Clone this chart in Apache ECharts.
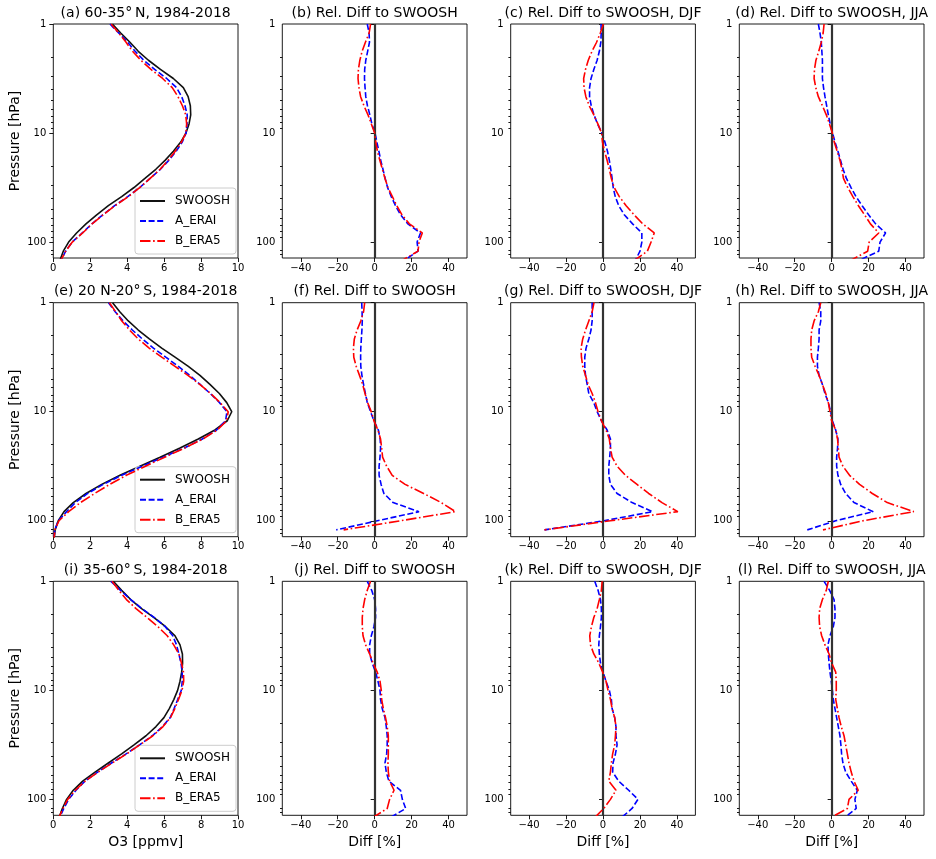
<!DOCTYPE html>
<html><head><meta charset="utf-8">
<script src="https://cdn.jsdelivr.net/npm/echarts@6/dist/echarts.min.js"></script>
<style>html,body{margin:0;padding:0;background:#fff}#c{width:936px;height:859px}</style>
</head><body><div id="c"></div>
<script>
// SWOOSH pressure levels [hPa]
const pressure = [1.00, 1.21, 1.47, 1.78, 2.15, 2.61, 3.16, 3.83, 4.64, 5.62, 6.81, 8.25, 10.0, 12.1, 14.7, 17.8, 21.5, 26.1, 31.6, 38.3, 46.4, 56.2, 68.1, 82.5, 100, 121.2, 146.8];

// O3 profiles [ppmv]
const swoosh_nh = [3.2, 3.65, 4.15, 4.6, 5.15, 5.8, 6.5, 7.04, 7.3, 7.42, 7.44, 7.35, 7.18, 6.9, 6.5, 6.05, 5.55, 4.96, 4.37, 3.7, 2.98, 2.35, 1.77, 1.26, 0.83, 0.54, 0.36];
const erai_nh   = [3.07, 3.54, 4.03, 4.43, 4.9, 5.49, 6.14, 6.67, 6.95, 7.13, 7.25, 7.24, 7.19, 6.98, 6.65, 6.25, 5.8, 5.24, 4.68, 4.03, 3.32, 2.68, 2.09, 1.57, 1.02, 0.67, 0.42];
const era5_nh   = [3.13, 3.54, 3.94, 4.29, 4.74, 5.29, 5.92, 6.44, 6.75, 6.99, 7.17, 7.22, 7.18, 6.94, 6.6, 6.22, 5.78, 5.24, 4.68, 4.06, 3.34, 2.7, 2.1, 1.59, 1.03, 0.67, 0.41];

const swoosh_tr = [3.21, 3.6, 4.06, 4.6, 5.2, 5.87, 6.59, 7.31, 7.94, 8.48, 8.99, 9.39, 9.66, 9.42, 8.75, 7.85, 6.86, 5.78, 4.69, 3.61, 2.62, 1.77, 1.08, 0.58, 0.27, 0.1, 0.04];
const erai_tr   = [2.99, 3.35, 3.78, 4.28, 4.82, 5.42, 6.09, 6.77, 7.38, 7.95, 8.5, 9.0, 9.4, 9.33, 8.84, 8.07, 7.09, 5.95, 4.81, 3.7, 2.7, 1.86, 1.19, 0.72, 0.27, 0.08, 0.04];
const era5_tr   = [3.04, 3.37, 3.71, 4.12, 4.6, 5.19, 5.87, 6.59, 7.29, 7.93, 8.52, 9.03, 9.47, 9.38, 8.88, 8.09, 7.12, 6.03, 4.99, 3.95, 3.05, 2.24, 1.47, 0.83, 0.31, 0.08, 0.04];

const swoosh_sh = [3.25, 3.7, 4.19, 4.78, 5.45, 6.08, 6.59, 6.86, 6.99, 7.0, 6.95, 6.86, 6.73, 6.53, 6.28, 5.99, 5.56, 5.02, 4.37, 3.7, 2.98, 2.26, 1.59, 1.08, 0.72, 0.49, 0.31];
const erai_sh   = [3.12, 3.64, 4.19, 4.8, 5.48, 6.06, 6.47, 6.67, 6.8, 6.91, 6.98, 6.98, 6.93, 6.74, 6.54, 6.33, 5.91, 5.36, 4.67, 3.94, 3.15, 2.4, 1.71, 1.23, 0.83, 0.57, 0.34];
const era5_sh   = [3.18, 3.55, 3.96, 4.48, 5.08, 5.67, 6.17, 6.52, 6.8, 6.94, 7.05, 7.06, 6.97, 6.78, 6.58, 6.34, 5.94, 5.39, 4.69, 3.97, 3.19, 2.43, 1.72, 1.19, 0.78, 0.52, 0.31];

// Relative differences to SWOOSH [%]
const diff_erai_nh_ann = [-4.0, -3.0, -2.8, -3.8, -4.8, -5.4, -5.5, -5.2, -4.8, -3.9, -2.6, -1.5, 0.2, 1.2, 2.3, 3.3, 4.5, 5.7, 7.0, 9.0, 11.3, 14.0, 18.0, 24.8, 23.0, 23.5, 16.0];
const diff_era5_nh_ann = [-2.2, -3.0, -5.0, -6.8, -8.0, -8.8, -9.0, -8.5, -7.6, -5.8, -3.6, -1.8, 0.0, 0.6, 1.5, 2.8, 4.2, 5.6, 7.2, 9.6, 12.0, 14.8, 18.8, 25.8, 24.0, 23.5, 15.0];
const diff_erai_nh_djf = [-1.1, -1.0, -1.2, -2.0, -3.2, -5.0, -6.5, -7.3, -7.3, -6.4, -4.9, -3.0, -0.6, 1.0, 2.4, 3.4, 4.2, 4.9, 5.5, 6.6, 8.5, 11.5, 16.0, 21.0, 21.0, 20.0, 17.5];
const diff_era5_nh_djf = [0.2, -1.5, -3.5, -6.0, -8.0, -9.5, -10.5, -10.3, -9.3, -7.5, -5.0, -2.8, -0.8, -0.3, 0.8, 2.2, 3.4, 4.5, 6.0, 8.8, 12.5, 16.8, 21.5, 27.7, 26.0, 24.0, 17.0];
const diff_erai_nh_jja = [-7.2, -6.3, -5.6, -5.3, -5.0, -5.0, -5.0, -4.4, -3.6, -2.7, -1.8, -0.8, 0.5, 1.8, 3.4, 4.8, 6.2, 8.0, 10.5, 13.2, 16.5, 20.0, 23.8, 29.2, 26.2, 25.5, 15.0];
const diff_era5_nh_jja = [-4.1, -4.6, -5.6, -7.0, -8.5, -9.3, -9.5, -8.6, -7.2, -5.0, -2.9, -1.2, 0.4, 1.4, 3.0, 4.5, 5.6, 6.4, 8.7, 11.5, 14.5, 17.8, 21.0, 25.5, 20.3, 19.5, 10.4];

const diff_erai_tr_ann = [-7.0, -6.8, -6.7, -6.9, -7.2, -7.5, -7.6, -7.5, -6.9, -6.0, -5.0, -4.0, -2.2, -0.4, 2.0, 3.0, 3.2, 2.9, 2.4, 2.4, 3.5, 5.0, 10.0, 24.0, 1.5, -20.8, null];
const diff_era5_tr_ann = [-5.4, -6.0, -7.5, -9.5, -11.0, -11.5, -11.3, -10.0, -8.2, -6.5, -5.2, -3.8, -1.8, -0.4, 1.8, 3.2, 3.8, 4.3, 6.5, 9.5, 16.5, 26.5, 36.0, 43.8, 14.0, -16.8, null];
const diff_erai_tr_djf = [-5.9, -5.9, -5.9, -6.5, -7.7, -9.2, -9.9, -9.9, -9.5, -8.6, -7.7, -5.0, -3.2, -0.9, 2.2, 4.0, 4.0, 3.6, 3.1, 3.1, 4.0, 7.6, 15.7, 26.8, 0.5, -31.7, null];
const diff_era5_tr_djf = [-4.9, -5.9, -7.7, -9.5, -11.0, -11.9, -11.7, -11.0, -9.5, -8.1, -5.9, -4.1, -2.7, -0.9, 1.6, 3.4, 4.0, 4.9, 7.6, 12.1, 18.4, 24.7, 31.9, 40.5, 4.0, -31.7, null];
const diff_erai_tr_jja = [-6.8, -5.9, -5.9, -6.8, -6.8, -7.2, -7.7, -7.7, -6.8, -5.0, -3.6, -1.8, -0.5, 0.4, 2.2, 3.4, 3.2, 2.7, 2.7, 3.4, 4.9, 7.6, 12.1, 22.5, 2.2, -13.2, null];
const diff_era5_tr_jja = [-5.9, -7.2, -9.5, -10.8, -11.2, -11.2, -10.8, -9.0, -6.8, -5.0, -3.2, -1.8, -0.9, 0.0, 2.2, 3.2, 3.6, 4.0, 6.1, 9.7, 15.1, 22.0, 30.1, 44.5, 17.0, -4.7, null];

const diff_erai_sh_ann = [-4.0, -1.6, 0.0, 0.5, 0.5, -0.4, -1.8, -2.7, -2.7, -1.3, 0.5, 1.8, 2.9, 3.2, 4.1, 5.6, 6.3, 6.8, 6.8, 6.5, 5.6, 6.3, 7.7, 14.0, 15.0, 16.8, 8.5];
const diff_era5_sh_ann = [-2.2, -4.0, -5.4, -6.3, -6.7, -6.7, -6.3, -4.9, -2.7, -0.9, 1.4, 2.9, 3.6, 3.8, 4.7, 5.9, 6.8, 7.4, 7.4, 7.4, 7.2, 7.4, 8.1, 10.5, 8.1, 6.8, -1.0];
const diff_erai_sh_djf = [-4.5, -2.7, -1.4, -0.9, -0.9, -1.4, -2.0, -2.3, -2.0, -1.4, 0.0, 1.6, 3.4, 4.5, 4.9, 6.3, 7.0, 7.0, 7.6, 6.7, 5.4, 5.2, 8.5, 13.9, 18.9, 15.7, 10.0];
const diff_era5_sh_djf = [-0.5, -0.9, -2.0, -3.2, -5.0, -6.3, -7.2, -6.8, -5.0, -2.3, -0.2, 1.6, 2.7, 4.0, 4.9, 6.3, 7.0, 6.7, 6.3, 5.2, 4.5, 4.0, 3.1, 7.0, 4.0, 0.4, -4.5];
const diff_erai_sh_jja = [-4.1, -1.1, 1.3, 1.8, 1.8, 0.9, -0.9, -2.0, -1.8, -1.4, -0.9, -0.2, 0.4, 0.9, 1.8, 2.7, 3.6, 4.5, 5.0, 5.4, 6.1, 7.6, 10.6, 13.9, 12.6, 13.3, 7.0];
const diff_era5_sh_jja = [-1.8, -2.9, -5.0, -6.5, -6.8, -6.5, -5.4, -3.6, -1.4, 0.0, 2.2, 2.5, 2.5, 2.2, 3.1, 4.0, 5.2, 6.7, 7.6, 8.5, 9.4, 10.6, 12.1, 14.4, 9.4, 8.5, -0.5];

// Axis ticks
const pMajorTicks = [1, 10, 100];
const pMinorTicks = [2, 3, 4, 5, 6, 7, 8, 9, 20, 30, 40, 50, 60, 70, 80, 90, 120, 130];
const diffTicks = [-40, -20, 0, 20, 40];
const seriesNames = ['SWOOSH', 'A_ERAI', 'B_ERA5'];

const titles = [
  '(a) 60-35°\u2009N, 1984-2018', '(b) Rel. Diff to SWOOSH', '(c) Rel. Diff to SWOOSH, DJF', '(d) Rel. Diff to SWOOSH, JJA',
  '(e) 20 N-20°\u2009S, 1984-2018', '(f) Rel. Diff to SWOOSH', '(g) Rel. Diff to SWOOSH, DJF', '(h) Rel. Diff to SWOOSH, JJA',
  '(i) 35-60°\u2009S, 1984-2018', '(j) Rel. Diff to SWOOSH', '(k) Rel. Diff to SWOOSH, DJF', '(l) Rel. Diff to SWOOSH, JJA'
];
const panelData = [
  [swoosh_nh, erai_nh, era5_nh], [null, diff_erai_nh_ann, diff_era5_nh_ann], [null, diff_erai_nh_djf, diff_era5_nh_djf], [null, diff_erai_nh_jja, diff_era5_nh_jja],
  [swoosh_tr, erai_tr, era5_tr], [null, diff_erai_tr_ann, diff_era5_tr_ann], [null, diff_erai_tr_djf, diff_era5_tr_djf], [null, diff_erai_tr_jja, diff_era5_tr_jja],
  [swoosh_sh, erai_sh, era5_sh], [null, diff_erai_sh_ann, diff_era5_sh_ann], [null, diff_erai_sh_djf, diff_era5_sh_djf], [null, diff_erai_sh_jja, diff_era5_sh_jja]
];

// ---------- layout / style ----------
const FONT = 'DejaVu Sans';
const colLeft = [53.3, 282.3, 510.7, 739.3];
const rowTop = [24, 302.7, 581.3];
const W = 184.7, H = 234;
const LW = 1.6;
const TICKFONT = 10;
const styles = [
  {color: '#111111', type: 'solid'},
  {color: '#0000ff', type: [6, 2.6]},
  {color: '#ff0000', type: [10.5, 2.6, 1.6, 2.6]}
];
const tickStyle = {color: '#000', width: 0.9};
const minus = v => (v < 0 ? '\u2212' + Math.abs(v) : String(v));

const grid = [], xAxis = [], yAxis = [], series = [], title = [], legend = [];
for (let n = 0; n < 12; n++) {
  const r = Math.floor(n / 4), c = n % 4;
  grid.push({left: colLeft[c], top: rowTop[r], width: W, height: H, show: true,
    borderColor: '#000', borderWidth: 0.9, backgroundColor: 'transparent', containLabel: false});
  title.push({text: titles[n], left: colLeft[c] + W / 2, top: rowTop[r] - 18, textAlign: 'center', padding: 0,
    textStyle: {fontFamily: FONT, fontSize: 14, fontWeight: 'normal', color: '#000'}});
  const isProfile = c === 0;
  const xa = {type: 'value', gridIndex: n, axisLine: {show: false}, splitLine: {show: false},
    axisTick: {show: true, length: 4, lineStyle: tickStyle},
    axisLabel: {fontFamily: FONT, fontSize: TICKFONT, color: '#000', margin: 5},
    name: r === 2 ? (isProfile ? 'O3 [ppmv]' : 'Diff [%]') : '', nameLocation: 'middle', nameGap: 20,
    nameTextStyle: {fontFamily: FONT, fontSize: 14, color: '#000'}};
  if (isProfile) { xa.min = 0; xa.max = 10; xa.interval = 2; }
  else {
    xa.min = -50; xa.max = 50;
    xa.axisTick.customValues = diffTicks;
    xa.axisLabel.customValues = diffTicks;
    xa.axisLabel.formatter = v => minus(Math.round(v));
  }
  xAxis.push(xa);
  yAxis.push({type: 'log', logBase: 10, gridIndex: n, inverse: true, min: 1, max: 140, position: 'left',
    axisLine: {show: false}, splitLine: {show: false},
    axisTick: {show: true, length: 4, lineStyle: tickStyle, customValues: pMajorTicks},
    axisLabel: {customValues: pMajorTicks, fontFamily: FONT, fontSize: TICKFONT, color: '#000', margin: 7,
      formatter: v => String(Math.round(v))},
    name: isProfile ? 'Pressure [hPa]' : '', nameLocation: 'middle', nameRotate: 90, nameGap: 31,
    nameTextStyle: {fontFamily: FONT, fontSize: 14, color: '#000'}});
  yAxis.push({type: 'log', logBase: 10, gridIndex: n, inverse: true, min: 1, max: 140, position: 'left',
    axisLine: {show: false}, splitLine: {show: false}, axisLabel: {show: false},
    axisTick: {show: true, length: 2.3, lineStyle: tickStyle, customValues: pMinorTicks}});

  const vals = panelData[n];
  for (let s = 0; s < 3; s++) {
    if (!vals[s]) continue;
    const data = [];
    pressure.forEach((p, i) => { if (vals[s][i] !== null && vals[s][i] !== undefined) data.push([vals[s][i], p]); });
    const ser = {type: 'line', name: seriesNames[s], xAxisIndex: n, yAxisIndex: 2 * n, data: data,
      symbol: 'none', showSymbol: false, smooth: false, clip: true, silent: true,
      lineStyle: {color: styles[s].color, width: LW, type: styles[s].type},
      itemStyle: {color: styles[s].color}, z: 3 + s};
    if (!isProfile && s === 1) {
      ser.markLine = {silent: true, symbol: ['none', 'none'], label: {show: false},
        lineStyle: {color: '#333', width: 2.2, type: 'solid'}, data: [{xAxis: 0}]};
    }
    series.push(ser);
  }
  if (isProfile) {
    legend.push({data: seriesNames, orient: 'vertical', left: 135, top: rowTop[r] + 164,
      padding: [7, 6, 7, 4], itemGap: 8, itemWidth: 25, itemHeight: 14, selectedMode: false,
      backgroundColor: 'rgba(255,255,255,0.85)', borderColor: '#cccccc', borderWidth: 1, borderRadius: 3,
      itemStyle: {opacity: 0},
      textStyle: {fontFamily: FONT, fontSize: 12, color: '#000', padding: [0, 0, 0, 5]}});
  }
}

const chart = echarts.init(document.getElementById('c'), null, {renderer: 'canvas'});
chart.setOption({animation: false, backgroundColor: '#fff', title, grid, xAxis, yAxis, series, legend});
</script>
</body></html>
